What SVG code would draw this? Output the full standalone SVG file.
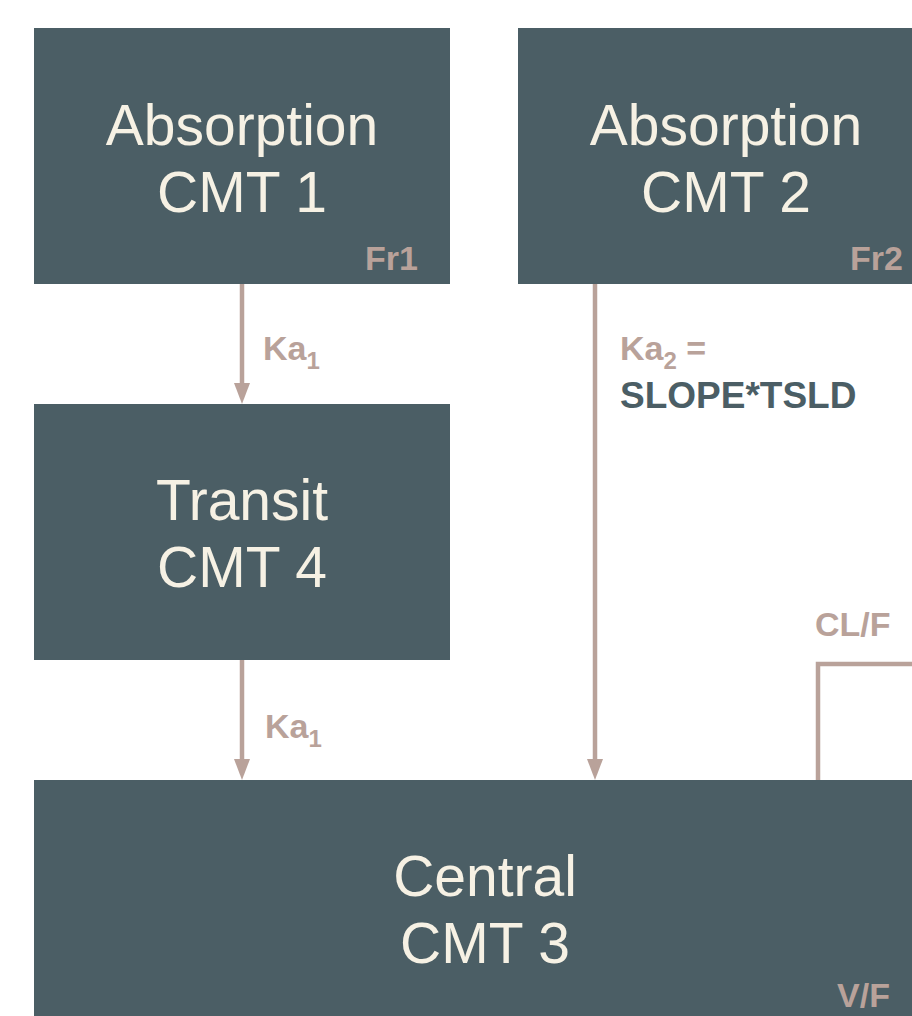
<svg xmlns="http://www.w3.org/2000/svg" width="912" height="1016" viewBox="0 0 912 1016">
<style>
.box{fill:#4b5e65}
.t{font-family:"Liberation Sans",Arial,sans-serif;font-size:57px;fill:#f6f1e4;text-anchor:middle}
.lb{font-family:"Liberation Sans",Arial,sans-serif;font-size:34px;font-weight:bold;fill:#b9a29a}
.dk{fill:#4b5e65;font-size:37px}
.ln{stroke:#b9a29a;stroke-width:4.5;fill:none}
.ah{fill:#b9a29a}
</style>
<rect width="912" height="1016" fill="#ffffff"/>
<g id="connectors">
<line class="ln" x1="242" y1="284" x2="242" y2="384"/>
<path class="ah" d="M234,383 L250,383 L242,404 Z"/>
<line class="ln" x1="242" y1="660" x2="242" y2="760"/>
<path class="ah" d="M234,759 L250,759 L242,780 Z"/>
<line class="ln" x1="595" y1="284" x2="595" y2="760"/>
<path class="ah" d="M587,759 L603,759 L595,780 Z"/>
<path class="ln" d="M818,780 L818,664 L914,664"/>
<text class="lb" x="263" y="360">Ka<tspan font-size="24" dy="9">1</tspan></text>
<text class="lb" x="265" y="738">Ka<tspan font-size="24" dy="9">1</tspan></text>
<text class="lb" x="620" y="360">Ka<tspan font-size="24" dy="9">2</tspan><tspan dy="-9"> =</tspan></text>
<text class="lb dk" x="620" y="408">SLOPE*TSLD</text>
<text class="lb" x="815" y="636" font-size="35">CL/F</text>
</g>
<g id="cmt1">
<rect class="box" x="34" y="28" width="416" height="256"/>
<text class="t" x="242" y="145">Absorption</text>
<text class="t" x="242" y="212">CMT 1</text>
<text class="lb" x="418" y="270" text-anchor="end">Fr1</text>
</g>
<g id="cmt2">
<rect class="box" x="518" y="28" width="416" height="256"/>
<text class="t" x="726" y="145">Absorption</text>
<text class="t" x="726" y="212">CMT 2</text>
<text class="lb" x="903" y="270" text-anchor="end">Fr2</text>
</g>
<g id="cmt4">
<rect class="box" x="34" y="404" width="416" height="256"/>
<text class="t" x="242" y="520">Transit</text>
<text class="t" x="242" y="587">CMT 4</text>
</g>
<g id="cmt3">
<rect class="box" x="34" y="780" width="902" height="256"/>
<text class="t" x="485" y="896">Central</text>
<text class="t" x="485" y="963">CMT 3</text>
<text class="lb" x="890" y="1007" text-anchor="end">V/F</text>
</g>
</svg>
